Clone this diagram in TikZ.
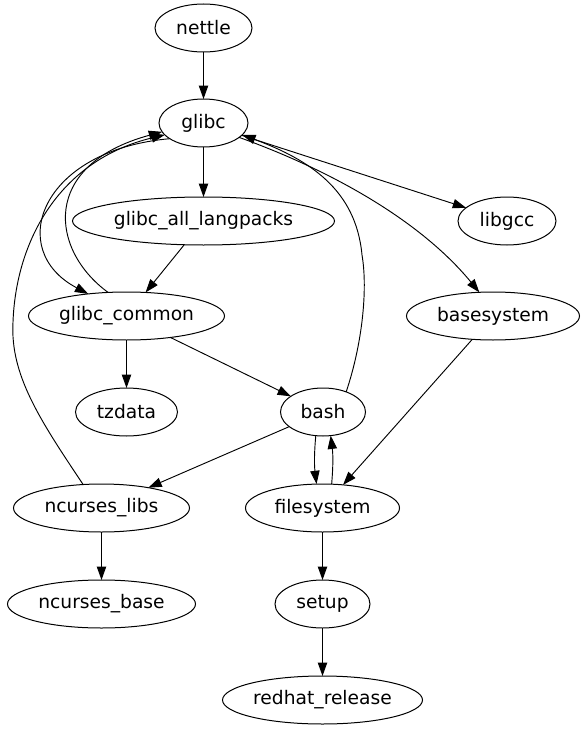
\documentclass[tikz,border=0pt]{standalone}
\usepackage{fontspec}
\setmainfont{DejaVu Sans}
\usetikzlibrary{arrows.meta,shapes.geometric}
\begin{document}
\begin{tikzpicture}[x=0.75pt,y=-0.75pt,
  pkg/.style={draw,ellipse,inner sep=0pt,outer sep=0pt,minimum height=36pt,line width=0.75pt,font=\fontsize{14}{16}\selectfont},
  dep/.style={line width=0.7pt,-{Triangle[length=10pt,width=7pt]}}]
\useasboundingbox (0,0) rectangle (586,731);
\node[pkg,minimum width=72.75pt] (nettle) at (203.5,28) {nettle};
\node[pkg,minimum width=66.75pt] (glibc) at (203.5,123) {glibc};
\node[pkg,minimum width=196.5pt] (gal) at (203.5,221) {glibc\_all\_langpacks};
\node[pkg,minimum width=73.5pt] (libgcc) at (507,221) {libgcc};
\node[pkg,minimum width=147pt] (gcommon) at (126.5,316) {glibc\_common};
\node[pkg,minimum width=129.75pt] (basesystem) at (493,316) {basesystem};
\node[pkg,minimum width=76.5pt] (tzdata) at (126.5,412) {tzdata};
\node[pkg,minimum width=63.75pt] (bash) at (323,412) {bash};
\node[pkg,minimum width=132pt] (nlibs) at (101.5,508) {ncurses\_libs};
\node[pkg,minimum width=115.5pt] (filesystem) at (322.5,508) {filesystem};
\node[pkg,minimum width=141pt] (nbase) at (101.5,604) {ncurses\_base};
\node[pkg,minimum width=71.25pt] (setup) at (322.5,604) {setup};
\node[pkg,minimum width=150pt] (redhat) at (322.5,700) {redhat\_release};

\draw[dep] (nettle) -- (glibc);
\draw[dep] (glibc) -- (gal);
\draw[dep] (glibc) -- (libgcc);
\draw[dep] (glibc.-22) .. controls (330,170) and (420,220) .. (basesystem.120);
\draw[dep] (bash.41) .. controls (362,345) and (368,290) .. (362,255) .. controls (356,190) and (310,160) .. (glibc.-17);
\draw[dep] (glibc.205) .. controls (40,150) and (5,250) .. (gcommon.150);
\draw[dep] (gcommon.128) .. controls (50,250) and (40,165) .. (glibc.192);
\draw[dep] (nlibs.128) .. controls (40,420) and (10,375) .. (13,322) .. controls (16,240) and (60,160) .. (glibc.197);
\draw[dep] (gal) -- (gcommon);
\draw[dep] (gcommon) -- (tzdata);
\draw[dep] (gcommon) -- (bash);
\draw[dep] (bash) -- (nlibs);
\draw[dep] (bash.253.5) to[bend right=6] (filesystem.104);
\draw[dep] (filesystem.69) to[bend right=6] (bash.288.7);
\draw[dep] (basesystem) -- (filesystem);
\draw[dep] (nlibs) -- (nbase);
\draw[dep] (filesystem) -- (setup);
\draw[dep] (setup) -- (redhat);
\end{tikzpicture}
\end{document}
